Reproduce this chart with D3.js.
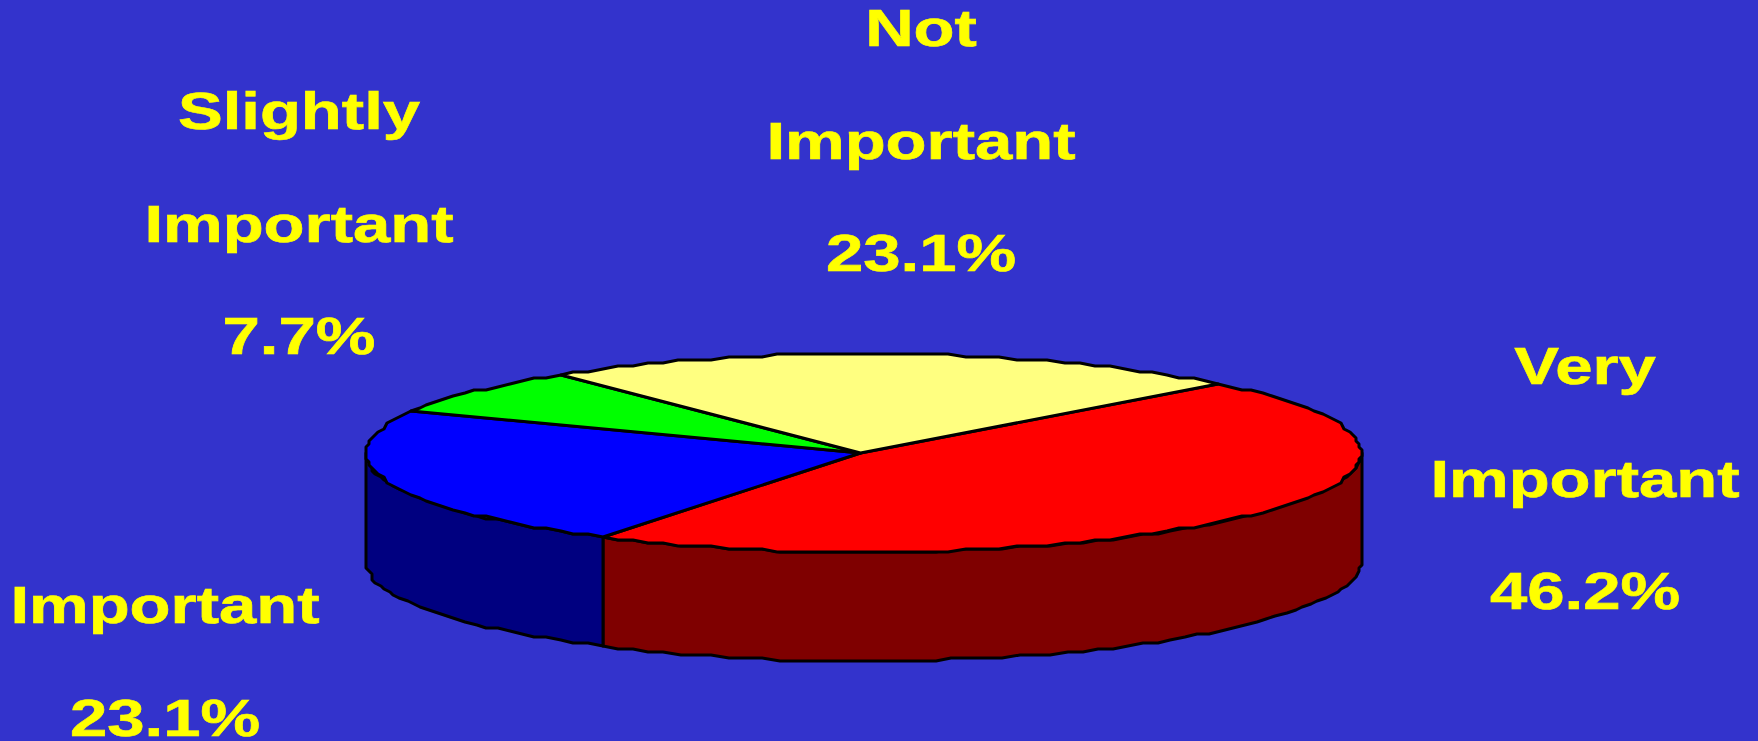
<!DOCTYPE html>
<html>

<head>
    <meta charset="utf-8">
    <title>Importance pie</title>
    <script src="https://d3js.org/d3.v7.min.js"></script>
    <style>
        html, body { margin: 0; padding: 0; background: #3333cc; overflow: hidden; }
        svg { display: block; }
        text { font-family: "Liberation Sans", Arial, sans-serif; font-weight: bold; fill: #ffff00; stroke: #ffff00; stroke-width: 0.6; }
    </style>
</head>

<body>
    <div id="chart"></div>

    <script>
        // values, clockwise from the red slice
        var categories = ["Very Important", "Important", "Slightly Important", "Not Important"];
        var percents = [46.2, 23.1, 7.7, 23.1];
        var topColors = ["#ff0000", "#0000ff", "#00ff00", "#ffff80"];
        var sideColors = ["#7f0000", "#000080", "#007f00", "#7f7f40"];

        // text blocks, one array of lines per slice
        var labelLines = [
            ["Very", "Important", "46.2%"],
            ["Important", "23.1%"],
            ["Slightly", "Important", "7.7%"],
            ["Not", "Important", "23.1%"]
        ];
        var labelX = [1585, 165, 299, 921];
        var labelBaseline = [384, 623, 129, 46];

        var width = 1758, height = 741;
        var lineStep = 112.6;
        var depth = 109;

        var svg = d3.select("#chart").append("svg")
            .attr("width", width)
            .attr("height", height);

        svg.append("rect").attr("width", width).attr("height", height).attr("fill", "#3333cc");

        // unit circle -> tilted ellipse on the page
        var x = d3.scaleLinear().domain([-1, 1]).range([366, 1361]);
        var y = d3.scaleLinear().domain([-1, 1]).range([354, 552]);

        // the original is a coarse raster outline, so snap the rim to a grid
        function snap(v) { return Math.round(v / 3) * 3; }

        function rim(angle, drop) {
            return [snap(x(Math.sin(angle))), snap(y(-Math.cos(angle))) + drop];
        }

        function arcPoints(a0, a1, drop) {
            var n = Math.max(2, Math.ceil((a1 - a0) / (Math.PI / 90)));
            return d3.range(n + 1).map(i => rim(a0 + (a1 - a0) * i / n, drop));
        }

        var line = d3.line();

        var startAngle = 45.5 * Math.PI / 180;
        var slices = d3.pie().sort(null)
            .startAngle(startAngle)
            .endAngle(startAngle + 2 * Math.PI)(percents);

        // Side wall, only the part of the rim that faces the viewer
        slices.forEach(function (d, i) {
            var a0 = Math.max(d.startAngle, Math.PI / 2),
                a1 = Math.min(d.endAngle, 3 * Math.PI / 2);
            if (a1 <= a0) return;
            var pts = arcPoints(a0, a1, 0).concat(arcPoints(a0, a1, depth).reverse());
            svg.append("path")
                .attr("d", line(pts) + "Z")
                .attr("fill", sideColors[i])
                .attr("stroke", "#000")
                .attr("stroke-width", 3)
                .attr("stroke-linejoin", "round");
        });

        // Top face
        slices.forEach(function (d, i) {
            var pts = [[x(-0.006), y(0)]].concat(arcPoints(d.startAngle, d.endAngle, 0));
            svg.append("path")
                .attr("d", line(pts) + "Z")
                .attr("fill", topColors[i])
                .attr("stroke", "#000")
                .attr("stroke-width", 3)
                .attr("stroke-linejoin", "round")
                .append("title").text(categories[i] + " " + percents[i] + "%");
        });

        // Labels, stretched sideways like the original
        labelLines.forEach(function (lines, i) {
            lines.forEach(function (t, j) {
                svg.append("text")
                    .attr("transform", `translate(${labelX[i]},${labelBaseline[i] + j * lineStep}) scale(1.29,1)`)
                    .attr("text-anchor", "middle")
                    .attr("font-size", 52)
                    .text(t);
            });
        });
    </script>
</body>

</html>
